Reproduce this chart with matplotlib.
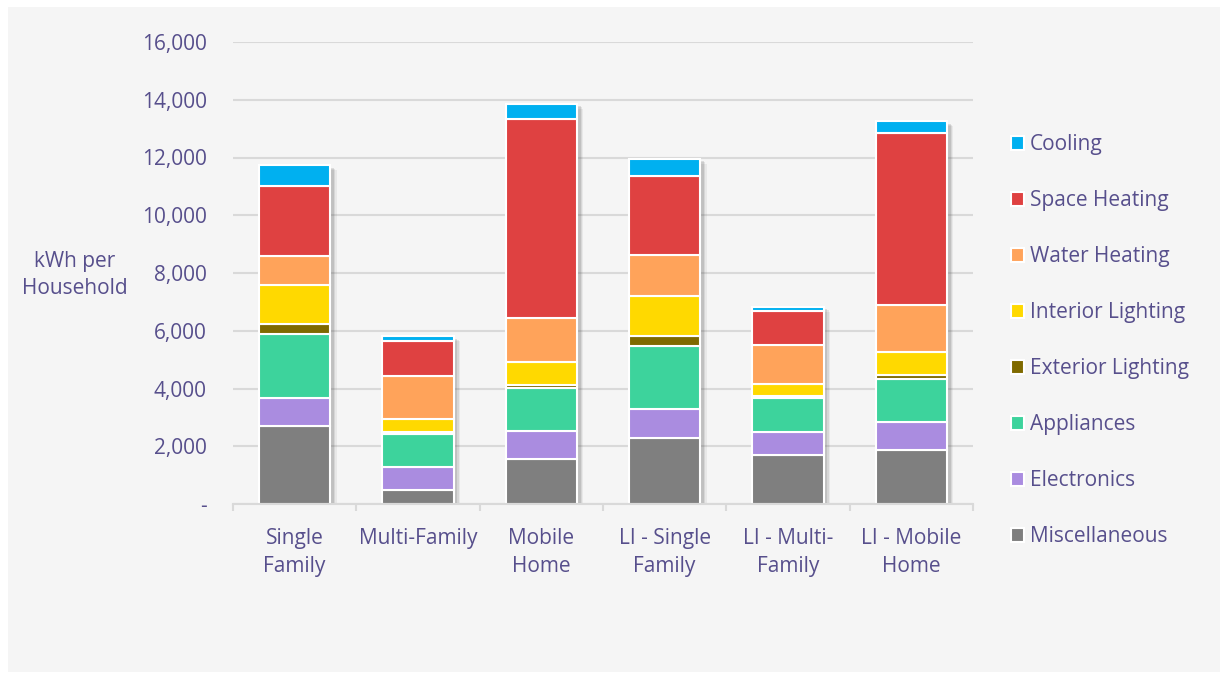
import numpy as np
import matplotlib.pyplot as plt
from matplotlib.patches import Rectangle
from matplotlib.ticker import FuncFormatter

categories = ["Single\nFamily", "Multi-Family", "Mobile\nHome",
              "LI - Single\nFamily", "LI - Multi-\nFamily", "LI - Mobile\nHome"]

# stacked bottom to top
misc = [2705, 486, 1561, 2279, 1700, 1873]
electronics = [982, 808, 982, 1006, 808, 982]
appliances = [2200, 1124, 1471, 2172, 1158, 1491]
ext_lighting = [347, 70, 110, 347, 90, 128]
int_lighting = [1363, 444, 800, 1387, 406, 798]
water_heating = [1006, 1516, 1516, 1446, 1328, 1630]
space_heating = [2393, 1214, 6903, 2716, 1179, 5942]
cooling = [728, 150, 520, 604, 163, 416]

series = [
    ("Miscellaneous", misc, "#7f7f7f"),
    ("Electronics", electronics, "#aa8ce0"),
    ("Appliances", appliances, "#3dd39c"),
    ("Exterior Lighting", ext_lighting, "#7f6a00"),
    ("Interior Lighting", int_lighting, "#ffd900"),
    ("Water Heating", water_heating, "#ffa35a"),
    ("Space Heating", space_heating, "#df4141"),
    ("Cooling", cooling, "#00b0f0"),
]

txt = "#574f8c"
fs = 15
plt.rcParams["font.family"] = ["Open Sans", "DejaVu Sans"]

fig = plt.figure(figsize=(12.23, 6.75), dpi=100, facecolor="white")
fig.patches.append(Rectangle((8 / 1223, 3 / 675), 1212 / 1223, 665 / 675,
                             transform=fig.transFigure, facecolor="#f5f5f5",
                             edgecolor="none", zorder=-10))
ax = fig.add_axes([233 / 1223, 1 - 504 / 675, 740 / 1223, 462 / 675])
ax.set_facecolor("none")

x = np.arange(len(categories))
width = 0.58
totals = np.sum([s[1] for s in series], axis=0)

# soft drop shadow behind each stack
for dx, dy, a in [(0.05, 170, 0.07), (0.04, 130, 0.10), (0.03, 90, 0.14)]:
    ax.bar(x + dx, totals, width, bottom=-dy, color="#404040", alpha=a,
           linewidth=0, zorder=2)

bottom = np.zeros(len(categories))
handles = []
for name, vals, col in series:
    b = ax.bar(x, vals, width, bottom=bottom, color=col, edgecolor="white",
               linewidth=1.5, label=name, zorder=3)
    handles.append(b)
    bottom += np.array(vals)

ax.set_xlim(-0.5, len(categories) - 0.5)
ax.set_ylim(0, 16000)
ax.set_yticks(np.arange(0, 16001, 2000))
ax.yaxis.set_major_formatter(FuncFormatter(lambda v, p: "-" if v == 0 else f"{v:,.0f}"))
ax.grid(axis="y", color="#d9d9d9", linewidth=1.5, zorder=0)
ax.set_axisbelow(True)
for s in ["top", "right", "left"]:
    ax.spines[s].set_visible(False)
ax.spines["bottom"].set_color("#d9d9d9")
ax.spines["bottom"].set_linewidth(1.5)
ax.spines["bottom"].set_zorder(4)

ax.set_xticks(x)
ax.set_xticklabels(categories, fontsize=fs, color=txt, linespacing=1.45)
ax.set_xticks(np.arange(-0.5, len(categories)), minor=True)
ax.tick_params(axis="x", which="major", length=0, pad=17)
ax.tick_params(axis="x", which="minor", length=5, color="#d9d9d9", width=1.5)
ax.tick_params(axis="y", length=0, pad=19, labelsize=fs, labelcolor=txt)

fig.text(75 / 1223, 1 - 275 / 675, "kWh per\nHousehold", ha="center", va="center",
         fontsize=fs, color=txt, linespacing=1.4)

leg = ax.legend(handles=handles[::-1], loc="upper left",
                bbox_to_anchor=(1001 / 1223, 1 - 124 / 675),
                bbox_transform=fig.transFigure, frameon=False, fontsize=fs,
                labelcolor=txt, handlelength=0.6, handleheight=0.6,
                handletextpad=0.3, labelspacing=1.68, borderpad=0)

fig.savefig("out.png", dpi=100, facecolor=fig.get_facecolor())
